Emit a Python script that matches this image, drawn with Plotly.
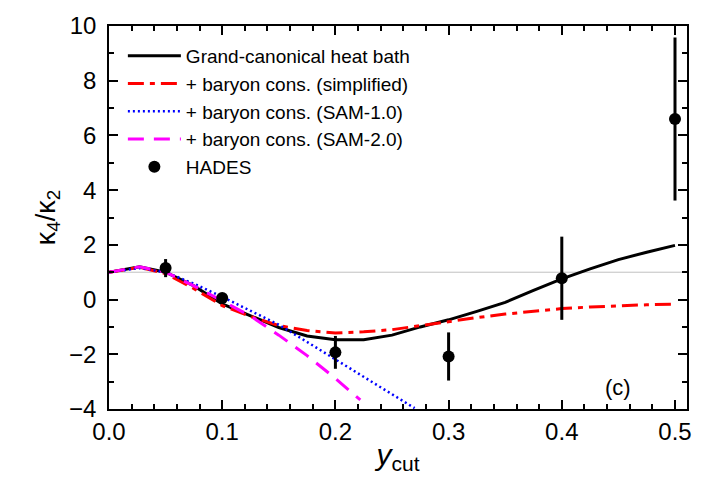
import plotly.graph_objects as go

# Rapidity-cut dependence of kappa4/kappa2
x_gce = [0.0, 0.027, 0.05, 0.075, 0.1, 0.125, 0.15, 0.175, 0.2, 0.225, 0.25,
         0.275, 0.3, 0.325, 0.35, 0.375, 0.4, 0.425, 0.45, 0.475, 0.5]
y_gce = [1.0, 1.2, 1.0, 0.5, -0.16, -0.6, -1.02, -1.33, -1.47, -1.47, -1.3,
         -1.0, -0.74, -0.43, -0.1, 0.34, 0.76, 1.12, 1.46, 1.73, 1.98]

x_simpl = [0.0, 0.027, 0.05, 0.075, 0.1, 0.125, 0.15, 0.175, 0.2, 0.225, 0.25,
           0.275, 0.3, 0.325, 0.35, 0.375, 0.4, 0.425, 0.45, 0.475, 0.5]
y_simpl = [1.0, 1.18, 0.95, 0.4, -0.22, -0.62, -0.95, -1.13, -1.22, -1.18, -1.1,
           -0.95, -0.8, -0.66, -0.53, -0.42, -0.33, -0.27, -0.22, -0.19, -0.17]

x_sam1 = [0.0, 0.027, 0.05, 0.075, 0.1, 0.125, 0.15, 0.175, 0.2, 0.225, 0.25, 0.27]
y_sam1 = [1.0, 1.15, 1.0, 0.58, 0.1, -0.4, -0.92, -1.55, -2.18, -2.82, -3.45, -3.97]

x_sam2 = [0.0, 0.027, 0.05, 0.075, 0.1, 0.125, 0.15, 0.175, 0.2, 0.222]
y_sam2 = [1.0, 1.2, 1.0, 0.5, -0.05, -0.6, -1.3, -2.05, -2.88, -3.67]

x_hades = [0.05, 0.1, 0.2, 0.3, 0.4, 0.5]
y_hades = [1.15, 0.06, -1.93, -2.08, 0.78, 6.6]
err_hades = [0.33, 0.15, 0.6, 0.88, 1.52, 2.98]

FONT = "Liberation Sans, Arial, sans-serif"

fig = go.Figure()

fig.add_trace(go.Scatter(
    x=x_gce, y=y_gce, mode="lines", name="Grand-canonical heat bath",
    line=dict(color="black", width=3)))
fig.add_trace(go.Scatter(
    x=x_simpl, y=y_simpl, mode="lines", name="+ baryon cons. (simplified)",
    line=dict(color="#ff0000", width=3, dash="16px,6px,5px,6px")))
fig.add_trace(go.Scatter(
    x=x_sam1, y=y_sam1, mode="lines", name="+ baryon cons. (SAM-1.0)",
    line=dict(color="#0000ff", width=2.5, dash="2px,3px")))
fig.add_trace(go.Scatter(
    x=x_sam2, y=y_sam2, mode="lines", name="+ baryon cons. (SAM-2.0)",
    line=dict(color="#ff00ff", width=3, dash="16px,10px")))
fig.add_trace(go.Scatter(
    x=x_hades, y=y_hades, mode="markers", name="HADES",
    marker=dict(color="black", size=12),
    error_y=dict(type="data", array=err_hades, color="black", thickness=3, width=0)))

# reference line at kappa4/kappa2 = 1
fig.add_hline(y=1, line=dict(color="#c0c0c0", width=1), layer="below")

axis_common = dict(
    showline=True, linecolor="black", linewidth=1.5, mirror="ticks",
    ticks="inside", ticklen=9, tickwidth=1.5, tickcolor="black",
    showgrid=False, zeroline=False,
    tickfont=dict(family=FONT, size=24, color="black"),
)

fig.update_xaxes(
    range=[0, 0.5106], tick0=0, dtick=0.1, tickformat=".1f",
    minor=dict(ticks="inside", ticklen=5, tickwidth=1.5, tickcolor="black", dtick=0.02),
    title=dict(text="<i>y</i><sub>cut</sub>",
               font=dict(family=FONT, size=30, color="black"), standoff=0),
    ticklabelstandoff=0,
    **axis_common)
fig.update_yaxes(
    range=[-4, 10], tick0=-4, dtick=2,
    minor=dict(ticks="inside", ticklen=5, tickwidth=1.5, tickcolor="black", dtick=1),
    title=dict(text="κ<sub>4</sub>/κ<sub>2</sub>",
               font=dict(family=FONT, size=27, color="black"), standoff=6),
    ticklabelstandoff=6,
    **axis_common)

fig.add_annotation(x=0.4492, y=-3.22, text="(c)", showarrow=False,
                   font=dict(family=FONT, size=22, color="black"))

fig.update_layout(
    width=713, height=482,
    margin=dict(l=109, r=26, t=23, b=73),
    plot_bgcolor="white", paper_bgcolor="white",
    legend=dict(x=0.024, y=0.9713, xanchor="left", yanchor="top",
                bgcolor="rgba(0,0,0,0)", itemwidth=53,
                font=dict(family=FONT, size=19, color="black")),
)

fig.write_html("out.html")
